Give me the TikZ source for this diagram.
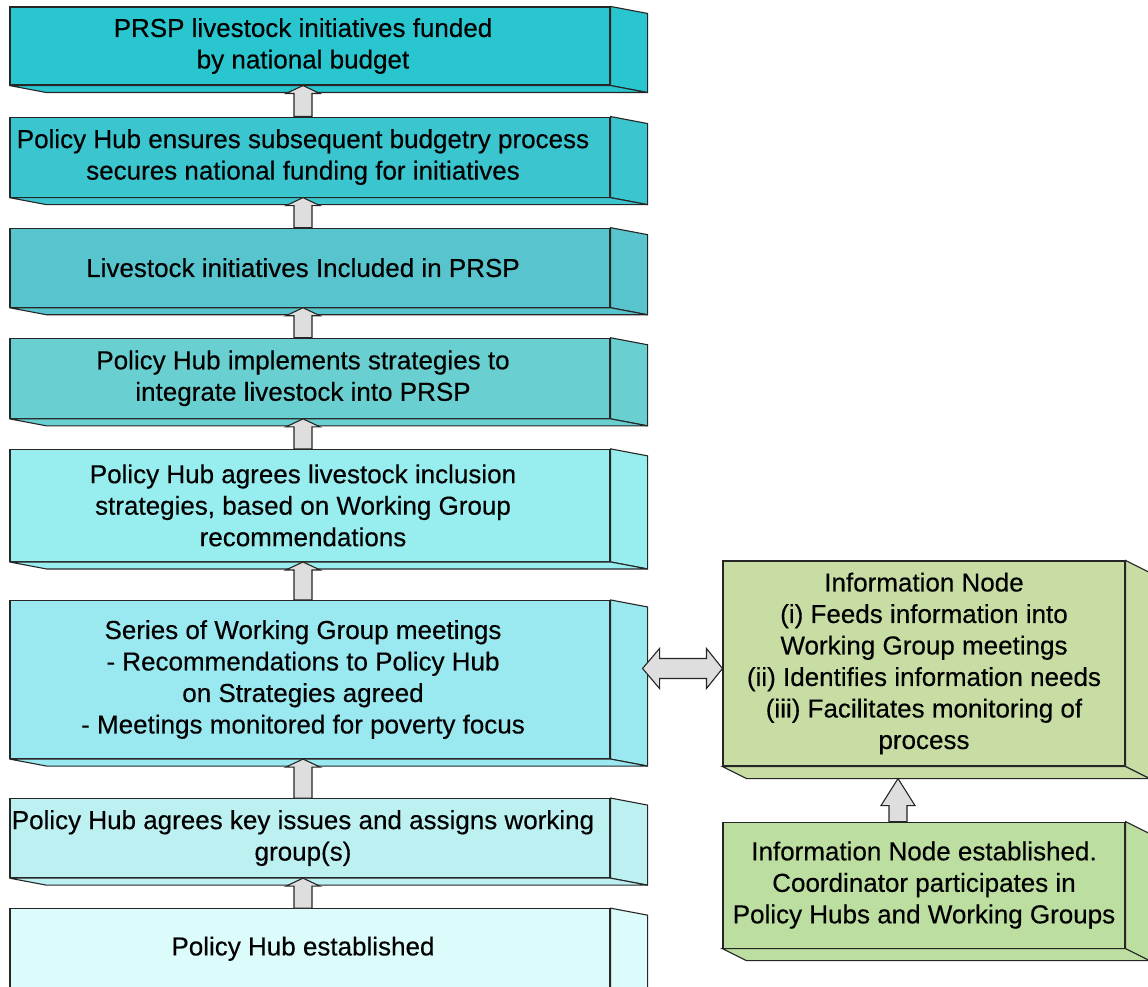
\documentclass[tikz,border=0pt]{standalone}
\usepackage{fontspec}
\setmainfont{Liberation Sans}[FakeBold=0.35]
\usetikzlibrary{positioning,calc}
\definecolor{c1}{HTML}{29C6D0}
\definecolor{c2}{HTML}{3BC5CF}
\definecolor{c3}{HTML}{58C5CE}
\definecolor{c4}{HTML}{69CFD0}
\definecolor{c5}{HTML}{98EDEF}
\definecolor{c6}{HTML}{9BE9F0}
\definecolor{c7}{HTML}{BCF0F1}
\definecolor{c8}{HTML}{DCFBFB}
\definecolor{cinfo}{HTML}{C8DDA4}
\definecolor{cest}{HTML}{BCDEA0}
\tikzset{
  boxtext/.style={line width=1.1pt, align=center, inner sep=2pt,
    font=\fontsize{26}{31.5}\selectfont},
  stage/.style={boxtext, minimum width=600pt,
    preaction={draw=black!85, fill=#1, transform canvas={xshift=7pt}}},
  infobox/.style={boxtext, draw=black!85, fill=#1, minimum width=402pt},
  face/.style={draw=black!85, line width=1.1pt, fill=#1},
  blk/.style={draw=black!85, line width=1.1pt, fill=black!13, line join=miter},
}
% side and bottom faces behind a box, #5 = shift of the front face
\newcommand\Depth[5]{%
  \draw[face=#4] ($(#1.north east)+(#5,0)$) -- ++(#2,#3) -- ($(#1.south east)+(#5,0)+(#2,#3)$) -- ($(#1.south east)+(#5,0)$) -- cycle;
  \draw[face=#4] ($(#1.south west)+(#5,0)$) -- ++(#2,#3) -- ($(#1.south east)+(#5,0)+(#2,#3)$) -- ($(#1.south east)+(#5,0)$) -- cycle;}
% block arrow going up from #1 to #2
\newcommand\UpArrow[3]{%
  \path (#1.north) coordinate (s) (s |- #2) coordinate (t);
  \draw[blk] ($(s)+(-9,0)$) -- ($(t)+(-9,#3)$) -- ($(t)+(-17,#3)$) -- (t)
    -- ($(t)+(17,#3)$) -- ($(t)+(9,#3)$) -- ($(s)+(9,0)$) -- cycle;}
\begin{document}
\begin{tikzpicture}[x=1pt, y=-1pt]
  \path[use as bounding box, clip] (0,0) rectangle (1148,987);
  % policy hub column
  \node[stage=c1, minimum height=78pt] (b1) at (303,46) {PRSP livestock initiatives funded\\by national budget};
  \node[stage=c2, minimum height=80pt, below=31pt of b1] (b2) {Policy Hub ensures subsequent budgetry process\\secures national funding for initiatives};
  \node[stage=c3, minimum height=79pt, below=30pt of b2] (b3) {Livestock initiatives Included in PRSP};
  \node[stage=c4, minimum height=80pt, below=30pt of b3] (b4) {Policy Hub implements strategies to\\integrate livestock into PRSP};
  \node[stage=c5, minimum height=112pt, below=30pt of b4] (b5) {Policy Hub agrees livestock inclusion\\strategies, based on Working Group\\recommendations};
  \node[stage=c6, minimum height=158pt, below=38pt of b5] (b6) {Series of Working Group meetings\\- Recommendations to Policy Hub\\on Strategies agreed\\- Meetings monitored for poverty focus};
  \node[stage=c7, minimum height=79pt, below=39pt of b6] (b7) {Policy Hub agrees key issues and assigns working\\group(s)};
  \node[stage=c8, minimum height=80pt, below=30pt of b7] (b8) {Policy Hub established};
  % information node column
  \node[infobox=cinfo, minimum height=205pt] (info) at (924,663.5) {Information Node\\(i) Feeds information into\\Working Group meetings\\(ii) Identifies information needs\\(iii) Facilitates monitoring of\\process};
  \node[infobox=cest, minimum height=126pt, below=55pt of info] (est) {Information Node established.\\Coordinator participates in\\Policy Hubs and Working Groups};
  \foreach \n/\c in {b1/c1,b2/c2,b3/c3,b4/c4,b5/c5,b6/c6,b7/c7,b8/c8}
    \Depth{\n}{37}{7}{\c}{7};
  \Depth{info}{24}{12}{cinfo}{0};
  \Depth{est}{24}{12}{cest}{0};
  % arrows
  \foreach \a/\b in {b2/b1,b3/b2,b4/b3,b5/b4,b6/b5,b7/b6,b8/b7}
    \UpArrow{\a}{\b.south}{8};
  \coordinate (ib) at ($(info.south)+(-26,12)$);
  \coordinate (es) at (est.north -| ib);
  \path (es) coordinate (s) (ib) coordinate (t);
  \draw[blk] ($(s)+(-9,0)$) -- ($(t)+(-9,27)$) -- ($(t)+(-17,27)$) -- (t)
    -- ($(t)+(17,27)$) -- ($(t)+(9,27)$) -- ($(s)+(9,0)$) -- cycle;
  \coordinate (l) at ($(b6.east)+(39,-11)$);
  \coordinate (r) at (info.west |- l);
  \draw[blk] (l) -- ++(17,-20) -- ++(0,10) -- ($(r)+(-16,-10)$) -- ++(0,-10) -- (r)
    -- ++(-16,20) -- ++(0,-10) -- ($(l)+(17,10)$) -- ++(0,10) -- cycle;
\end{tikzpicture}
\end{document}
